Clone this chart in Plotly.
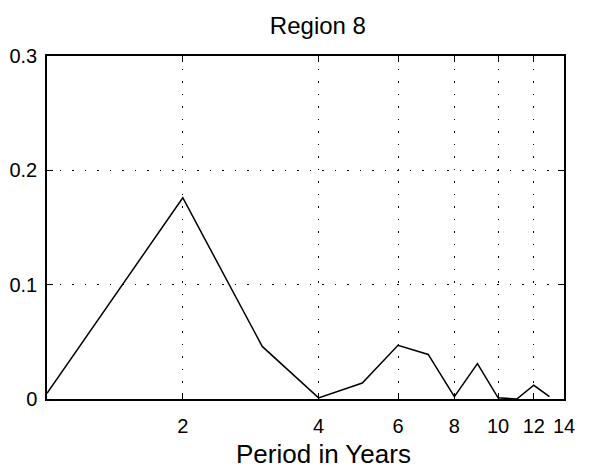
import math
import plotly.graph_objects as go

# Spectrum of period for Region 8
period_years = [1, 2, 3, 4, 5, 6, 7, 8, 9, 10, 11, 12, 13]
power = [0.005, 0.176, 0.046, 0.001, 0.014, 0.047, 0.039, 0.002, 0.031, 0.001, 0.0, 0.012, 0.002]

x_ticks = [2, 4, 6, 8, 10, 12, 14]
y_ticks = [0, 0.1, 0.2, 0.3]
y_tick_text = ["0", "0.1", "0.2", "0.3"]

FONT = "Liberation Sans, Arial, Helvetica, sans-serif"

fig = go.Figure()
fig.add_trace(go.Scatter(
    x=period_years, y=power, mode="lines",
    line=dict(color="black", width=1.5),
    showlegend=False,
))

tick_font = dict(family=FONT, size=20, color="black")

fig.update_layout(
    width=600, height=468,
    margin=dict(l=47, r=36, t=56, b=69),
    paper_bgcolor="white", plot_bgcolor="white",
    title=dict(text="Region 8", x=0.524, xanchor="center", xref="paper",
               y=1 - 26 / 468, yref="container", yanchor="middle",
               font=dict(family=FONT, size=24, color="black")),
    font=tick_font,
)

# x-axis label placed as an annotation below the tick labels
fig.add_annotation(
    text="Period in Years", xref="paper", yref="paper", x=0.534, y=0,
    xanchor="center", yanchor="top", yshift=-38, showarrow=False,
    font=dict(family=FONT, size=26, color="black"),
)

grid = dict(showgrid=True, gridcolor="black", gridwidth=1.2, griddash="1.5px,11px")
frame = dict(ticks="inside", ticklen=6, tickwidth=1.2, tickcolor="black",
             showline=True, linecolor="black", linewidth=1.5, mirror="ticks",
             zeroline=False, tickfont=tick_font, automargin=False)

fig.update_xaxes(
    type="log", range=[0, math.log10(14)],
    tickmode="array", tickvals=x_ticks, ticktext=[str(v) for v in x_ticks],
    ticklabelstandoff=8,
    **grid, **frame,
)
fig.update_yaxes(
    range=[0, 0.3],
    tickmode="array", tickvals=y_ticks, ticktext=y_tick_text,
    ticklabelstandoff=4,
    **grid, **frame,
)

fig.write_html("out.html")
